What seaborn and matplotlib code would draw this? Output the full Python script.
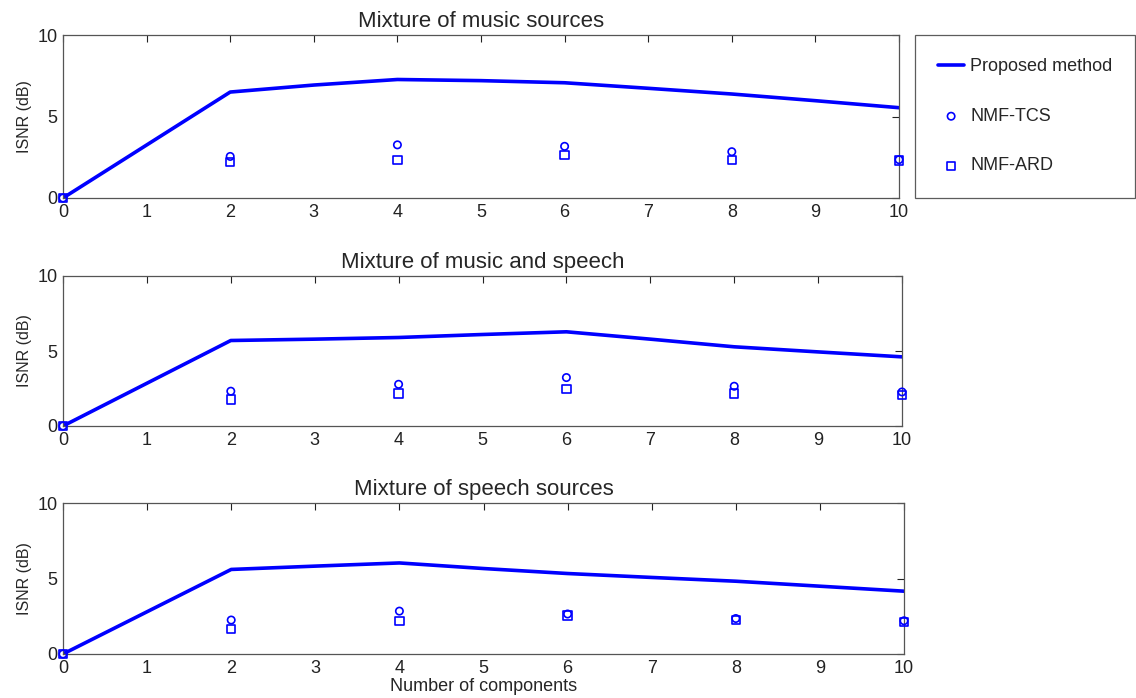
import matplotlib
matplotlib.use("Agg")
import matplotlib.pyplot as plt
import seaborn as sns
import pandas as pd

sns.set_style("white")
plt.rcParams['font.family'] = ['Liberation Sans', 'DejaVu Sans']

# Data
titles = ["Mixture of music sources", "Mixture of music and speech", "Mixture of speech sources"]
x_line = [0, 2, 3, 4, 5, 6, 7, 8, 9, 10]
proposed = [
    [0, 6.5, 6.93, 7.27, 7.2, 7.07, 6.73, 6.38, 5.97, 5.54],
    [0, 5.7, 5.79, 5.9, 6.1, 6.28, 5.79, 5.28, 4.94, 4.61],
    [0, 5.6, 5.82, 6.03, 5.66, 5.33, 5.07, 4.82, 4.49, 4.16],
]
x_pts = [0, 2, 4, 6, 8, 10]
nmf_tcs = [
    [0, 2.55, 3.26, 3.17, 2.84, 2.35],
    [0, 2.32, 2.78, 3.23, 2.65, 2.27],
    [0, 2.25, 2.84, 2.65, 2.35, 2.2],
]
nmf_ard = [
    [0, 2.19, 2.35, 2.65, 2.35, 2.3],
    [0, 1.76, 2.16, 2.45, 2.16, 2.05],
    [0, 1.65, 2.18, 2.55, 2.25, 2.1],
]
xticks = list(range(0, 11))
yticks = [0, 5, 10]

W, H = 1136, 698
fig = plt.figure(figsize=(W / 100, H / 100), dpi=100)

boxes = [(63, 899, 35, 198), (63, 902, 276, 426), (63, 904, 503, 654)]
blue = "#0000ff"
axes = []
for i, (l, r, t, b) in enumerate(boxes):
    ax = fig.add_axes([l / W, 1 - b / H, (r - l) / W, (b - t) / H])
    axes.append(ax)
    dl = pd.DataFrame({"x": x_line, "y": proposed[i]})
    sns.lineplot(data=dl, x="x", y="y", ax=ax, color=blue, linewidth=2.6,
                 label="Proposed method", legend=False)
    dt = pd.DataFrame({"x": x_pts, "y": nmf_tcs[i]})
    sns.scatterplot(data=dt, x="x", y="y", ax=ax, marker="o", s=28,
                    facecolors="none", edgecolor=blue, linewidth=1.2,
                    label="NMF-TCS", legend=False, clip_on=False, zorder=3)
    da = pd.DataFrame({"x": x_pts, "y": nmf_ard[i]})
    sns.scatterplot(data=da, x="x", y="y", ax=ax, marker="s", s=36,
                    facecolors="none", edgecolor=blue, linewidth=1.2,
                    label="NMF-ARD", legend=False, clip_on=False, zorder=3)
    ax.set_xlim(0, 10)
    ax.set_ylim(0, 10)
    ax.set_xticks(xticks)
    ax.set_yticks(yticks)
    ax.tick_params(direction="in", top=True, right=True, length=5, width=0.8,
                   labelsize=13, colors="#222222", pad=4)
    for sp in ax.spines.values():
        sp.set_visible(True)
        sp.set_color("#555555")
        sp.set_linewidth(0.9)
    ax.set_ylabel("ISNR (dB)", fontsize=11.5, labelpad=4)
    ax.set_xlabel("")
    ax.set_title(titles[i], fontsize=16, pad=6)

axes[2].set_xlabel("Number of components", fontsize=13, labelpad=1)

h, lab = axes[0].get_legend_handles_labels()
leg = fig.legend(h, lab, loc="upper left",
                 bbox_to_anchor=(915 / W, 1 - 198 / H, 220 / W, 163 / H),
                 mode="expand", fontsize=13, frameon=True, fancybox=False,
                 labelspacing=1.8, borderpad=1.3, handlelength=1.4,
                 handletextpad=0.35, borderaxespad=0)
leg.get_frame().set_edgecolor("#333333")
leg.get_frame().set_linewidth(0.9)

fig.savefig("out.png", dpi=100)
